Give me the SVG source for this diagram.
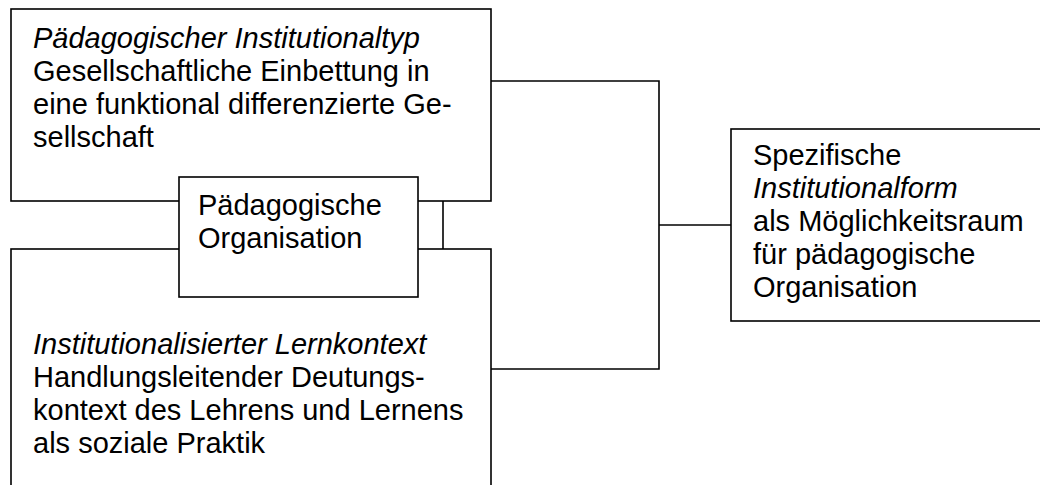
<svg xmlns="http://www.w3.org/2000/svg" width="1040" height="485" viewBox="0 0 1040 485">
<style>
.box{fill:#fff;stroke:#000;stroke-width:1.6}
.conn{fill:none;stroke:#000;stroke-width:1.6}
text{font-family:"Liberation Sans",Arial,Helvetica,sans-serif;font-size:29px;fill:#000}
.it{font-style:italic}
</style>
<rect width="1040" height="485" fill="#fff"/>
<g id="node-institutionaltyp">
<rect class="box" x="11" y="9" width="480" height="192"/>
<text x="33" y="48" class="it">Pädagogischer Institutionaltyp</text>
<text x="33" y="81">Gesellschaftliche Einbettung in</text>
<text x="33" y="114">eine funktional differenzierte Ge-</text>
<text x="33" y="147">sellschaft</text>
</g>
<g id="node-lernkontext">
<rect class="box" x="11" y="249" width="480" height="260"/>
<text x="33" y="354" class="it">Institutionalisierter Lernkontext</text>
<text x="33" y="387">Handlungsleitender Deutungs-</text>
<text x="33" y="420">kontext des Lehrens und Lernens</text>
<text x="33" y="453">als soziale Praktik</text>
</g>
<g id="node-organisation">
<rect class="box" x="179" y="177" width="239" height="120"/>
<text x="198" y="215">Pädagogische</text>
<text x="198" y="248">Organisation</text>
</g>
<g id="node-institutionalform">
<rect class="box" x="731" y="129" width="330" height="192"/>
<text x="753" y="165">Spezifische</text>
<text x="753" y="198" class="it">Institutionalform</text>
<text x="753" y="231">als Möglichkeitsraum</text>
<text x="753" y="264">für pädagogische</text>
<text x="753" y="297">Organisation</text>
</g>
<g id="connectors">
<line class="conn" x1="443" y1="201" x2="443" y2="249"/>
<polyline class="conn" points="491,81 659,81 659,369 491,369"/>
<line class="conn" x1="659" y1="225" x2="731" y2="225"/>
</g>
</svg>
